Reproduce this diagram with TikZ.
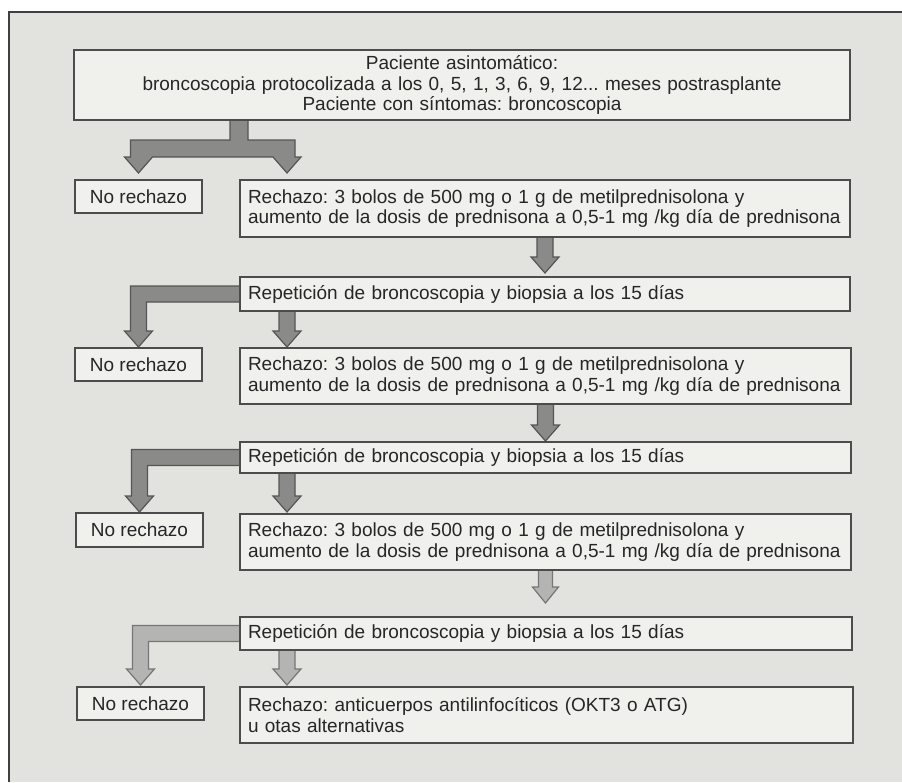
\documentclass[tikz,border=0pt]{standalone}
\usepackage{fontspec}
\setmainfont{Liberation Sans}
\usetikzlibrary{calc,backgrounds}
\frenchspacing
\begin{document}
\begin{tikzpicture}[x=1pt,y=-1pt,
  box/.style={draw=boxLine,line width=1.6pt,fill=boxFill,text=textColor,inner xsep=8pt,inner ysep=0pt,outer sep=0pt,anchor=north west,align=left,font=\fontsize{19}{20.5}\selectfont},
  nobox/.style={box,align=center,inner xsep=0pt,minimum width=127pt,minimum height=33pt},
  blockarrow/.style={draw=arrowLine,line width=1.2pt,fill=arrowFill,line join=miter},
  paleblock/.style={blockarrow,draw=paleLine,fill=paleFill}]
\definecolor{paperColor}{RGB}{226,226,223}
\definecolor{frameColor}{gray}{0.25}
\definecolor{boxFill}{RGB}{240,240,237}
\definecolor{boxLine}{gray}{0.30}
\definecolor{textColor}{gray}{0.15}
\definecolor{arrowFill}{RGB}{138,138,136}
\definecolor{arrowLine}{RGB}{85,85,85}
\definecolor{paleFill}{RGB}{180,180,178}
\definecolor{paleLine}{RGB}{118,118,118}

\begin{scope}[on background layer]
\path[use as bounding box,fill=white] (0,0) rectangle (902,782);
\path[fill=paperColor] (9,12) rectangle (902,782);
\path[draw=frameColor,line width=1.5pt] (9,782) -- (9,12) -- (902,12);
\end{scope}

\node[box,align=center,text width=760pt,minimum height=70pt] (start) at (74,50) {Paciente asintomático:\\broncoscopia protocolizada a los 0, 5, 1, 3, 6, 9, 12... meses postrasplante\\Paciente con síntomas: broncoscopia};

\node[nobox] (norec1) at (75,180) {No rechazo};
\node[box,text width=594pt,minimum height=57pt] (rej1) at (240,180) {Rechazo: 3 bolos de 500 mg o 1 g de metilprednisolona y\\aumento de la dosis de prednisona a 0,5-1 mg /kg día de prednisona};
\node[box,text width=594pt,minimum height=34pt] (rep1) at (240,277) {Repetición de broncoscopia y biopsia a los 15 días};

\node[nobox] (norec2) at (75,348) {No rechazo};
\node[box,text width=595pt,minimum height=56pt] (rej2) at (240,348) {Rechazo: 3 bolos de 500 mg o 1 g de metilprednisolona y\\aumento de la dosis de prednisona a 0,5-1 mg /kg día de prednisona};
\node[box,text width=595pt,minimum height=31pt] (rep2) at (240,442) {Repetición de broncoscopia y biopsia a los 15 días};

\node[nobox,minimum height=34pt] (norec3) at (76,513) {No rechazo};
\node[box,text width=595pt,minimum height=56pt] (rej3) at (240,514) {Rechazo: 3 bolos de 500 mg o 1 g de metilprednisolona y\\aumento de la dosis de prednisona a 0,5-1 mg /kg día de prednisona};
\node[box,text width=596pt,minimum height=33pt] (rep3) at (240,617) {Repetición de broncoscopia y biopsia a los 15 días};

\node[nobox] (norec4) at (77,687) {No rechazo};
\node[box,text width=597pt,minimum height=56pt] (rej4) at (240,687) {Rechazo: anticuerpos antilinfocíticos (OKT3 o ATG)\\u otas alternativas};

\begin{scope}[on background layer]
\path[blockarrow] let \p1=($(start.south west)+(165,0)$), \p2=(norec1.north), \p3=($(rej1.north west)+(47,0)$) in
	(\x1-9pt,\y1) -- (\x1-9pt,\y1-20pt) -- (\x2-8pt,\y1-20pt) -- (\x2-8pt,\y2+23pt) --
	(\x2-14pt,\y2+23pt) -- (\x2,\y2+7pt) -- (\x2+14pt,\y2+23pt) --
	(\x3-14pt,\y2+23pt) -- (\x3,\y2+7pt) -- (\x3+14pt,\y2+23pt) --
	(\x3+8pt,\y2+23pt) -- (\x3+8pt,\y1-20pt) -- (\x1+9pt,\y1-20pt) -- (\x1+9pt,\y1) -- cycle;

\path[blockarrow] let \p1=(rej1.south), \p2=(rep1.north) in
	(\x1-8pt,\y1) -- (\x1-8pt,\y2+20pt) -- (\x1-14pt,\y2+20pt) -- (\x1,\y2+4pt) --
	(\x1+14pt,\y2+20pt) -- (\x1+8pt,\y2+20pt) -- (\x1+8pt,\y1) -- cycle;

\path[blockarrow] let \p1=(rep1.west), \p2=(norec2.north) in
	(\x1,\y1+8pt) -- (\x2-8pt,\y1+8pt) -- (\x2-8pt,\y2+17pt) -- (\x2-14pt,\y2+17pt) --
	(\x2,\y2+1pt) -- (\x2+14pt,\y2+17pt) -- (\x2+8pt,\y2+17pt) -- (\x2+8pt,\y1-8pt) -- (\x1,\y1-8pt) -- cycle;

\path[blockarrow] let \p1=($(rep1.south west)+(47,0)$), \p2=(rej2.north) in
	(\x1-8pt,\y1) -- (\x1-8pt,\y2+17pt) -- (\x1-14pt,\y2+17pt) -- (\x1,\y2+1pt) --
	(\x1+14pt,\y2+17pt) -- (\x1+8pt,\y2+17pt) -- (\x1+8pt,\y1) -- cycle;

\path[blockarrow] let \p1=(rej2.south), \p2=(rep2.north) in
	(\x1-8pt,\y1) -- (\x1-8pt,\y2+17pt) -- (\x1-14pt,\y2+17pt) -- (\x1,\y2+1pt) --
	(\x1+14pt,\y2+17pt) -- (\x1+8pt,\y2+17pt) -- (\x1+8pt,\y1) -- cycle;

\path[blockarrow] let \p1=(rep2.west), \p2=(norec3.north) in
	(\x1,\y1+8pt) -- (\x2-8pt,\y1+8pt) -- (\x2-8pt,\y2+17pt) -- (\x2-14pt,\y2+17pt) --
	(\x2,\y2+1pt) -- (\x2+14pt,\y2+17pt) -- (\x2+8pt,\y2+17pt) -- (\x2+8pt,\y1-8pt) -- (\x1,\y1-8pt) -- cycle;

\path[blockarrow] let \p1=($(rep2.south west)+(47,0)$), \p2=(rej3.north) in
	(\x1-8pt,\y1) -- (\x1-8pt,\y2+18pt) -- (\x1-14pt,\y2+18pt) -- (\x1,\y2+2pt) --
	(\x1+14pt,\y2+18pt) -- (\x1+8pt,\y2+18pt) -- (\x1+8pt,\y1) -- cycle;

\path[paleblock] let \p1=(rej3.south), \p2=(rep3.north) in
	(\x1-7pt,\y1) -- (\x1-7pt,\y2+30pt) -- (\x1-13pt,\y2+30pt) -- (\x1,\y2+14pt) --
	(\x1+13pt,\y2+30pt) -- (\x1+7pt,\y2+30pt) -- (\x1+7pt,\y1) -- cycle;

\path[paleblock] let \p1=(rep3.west), \p2=(norec4.north) in
	(\x1,\y1+8pt) -- (\x2-8pt,\y1+8pt) -- (\x2-8pt,\y2+18pt) -- (\x2-14pt,\y2+18pt) --
	(\x2,\y2+2pt) -- (\x2+14pt,\y2+18pt) -- (\x2+8pt,\y2+18pt) -- (\x2+8pt,\y1-8pt) -- (\x1,\y1-8pt) -- cycle;

\path[paleblock] let \p1=($(rep3.south west)+(47,0)$), \p2=(rej4.north) in
	(\x1-8pt,\y1) -- (\x1-8pt,\y2+18pt) -- (\x1-14pt,\y2+18pt) -- (\x1,\y2+2pt) --
	(\x1+14pt,\y2+18pt) -- (\x1+8pt,\y2+18pt) -- (\x1+8pt,\y1) -- cycle;
\end{scope}
\end{tikzpicture}
\end{document}
